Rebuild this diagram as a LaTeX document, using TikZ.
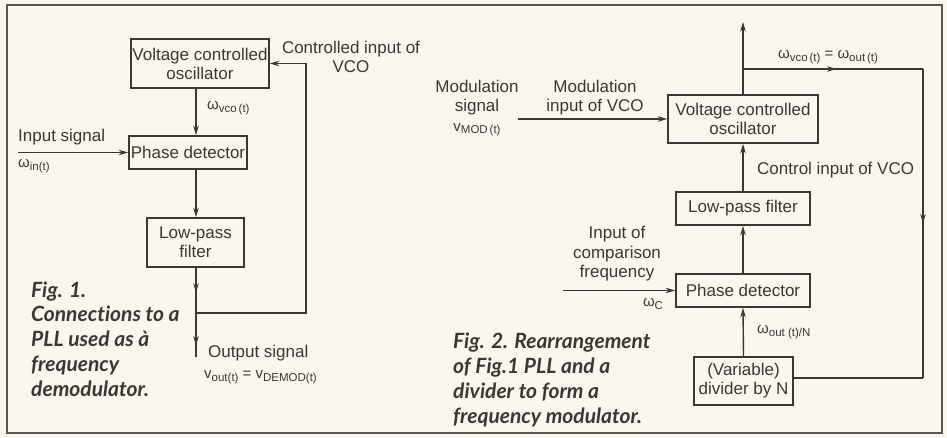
\documentclass[tikz,border=0pt]{standalone}
\usepackage{fontspec}
\setmainfont{Liberation Sans}
\newfontfamily\capfont[Ligatures=NoCommon]{Lato}
\usetikzlibrary{arrows.meta,decorations.markings}
\definecolor{ink}{RGB}{58,56,52}
\definecolor{paper}{RGB}{250,247,238}
\newcommand{\lsub}[1]{\raisebox{-0.35ex}{\fontsize{11.5}{12}\selectfont #1}}
\newcommand{\om}{{\fontsize{15}{15}\selectfont ω}}
\begin{document}
\begin{tikzpicture}[x=1pt,y=-1pt,
  lbl/.style={text=ink, inner sep=0pt, font=\fontsize{17}{19.5}\selectfont},
  sym/.style={text=ink, inner sep=0pt, font=\fontsize{15}{15}\selectfont},
  blk/.style={draw=ink, line width=1.7pt, inner sep=0pt, align=center, text=ink,
              font=\fontsize{17}{19}\selectfont},
  captext/.style={text=ink, inner sep=0pt, align=left,
              font=\capfont\bfseries\itshape\fontsize{21}{24.8}\selectfont},
  wire/.style={draw=ink, line width=1.4pt},
  arr/.style={wire, -{Stealth[length=9.5pt,width=5.5pt]}},
  midarr/.style={wire, postaction={decorate}, decoration={markings,
     mark=at position #1 with {\arrow{Stealth[length=9.5pt,width=5.5pt]}}}}
]
\useasboundingbox (0,0) rectangle (947,438);
\fill[paper] (0,0) rectangle (947,438);
\draw[ink!85, line width=1.2pt] (7,5) rectangle (942,433);

% ---------------- Fig. 1 ----------------
\node[blk, minimum width=138pt, minimum height=49pt] (vco1) at (200,63.5) {Voltage controlled\\oscillator};
\node[blk, minimum width=118pt, minimum height=33pt] (pd1) at (188,152.5) {Phase detector};
\node[blk, minimum width=97pt, minimum height=49pt] (lpf1) at (195.5,242.5) {Low-pass\\filter};
\coordinate (x1) at (196,0);
\coordinate (in1) at (18,152.5);
\coordinate (j1) at (196,313);
\coordinate (out1) at (196,357);
\coordinate (fb1) at (306,313);

\draw[arr] (vco1.south -| x1) -- (pd1.north -| x1);
\draw[arr] (in1) -- (pd1.west);
\draw[arr] (pd1.south -| x1) -- (lpf1.north -| x1);
\draw[midarr=0.55] (lpf1.south -| x1) -- (j1);
\draw[midarr=0.74] (j1) -- (out1);
\draw[arr] (j1) -- (fb1) |- (vco1.east);

\node[lbl, align=center] (ci1) at (351,57) {Controlled input of\\VCO};
\node[lbl, anchor=west] (is1) at (18,137) {Input signal};
\node[sym, anchor=west] (wi1) at (18,166) {\om\lsub{in(t)}};
\node[sym, anchor=west] (wv1) at (207,108) {\om\lsub{vco\,(t)}};
\node[lbl, anchor=west] (os1) at (208,353) {Output signal};
\node[sym, anchor=west] (vo1) at (204,377) {v\lsub{out(t)} = v\lsub{DEMOD(t)}};
\node[captext, anchor=west] (cap1) at (31,339) {Fig. 1.\\Connections to a\\PLL used as à\\frequency\\demodulator.};

% ---------------- Fig. 2 ----------------
\node[blk, minimum width=150pt, minimum height=48pt] (vco2) at (743,119) {Voltage controlled\\oscillator};
\node[blk, minimum width=134pt, minimum height=33pt] (lpf2) at (743,208.5) {Low-pass filter};
\node[blk, minimum width=134pt, minimum height=33pt] (pd2) at (743,290.5) {Phase detector};
\node[blk, minimum width=99pt, minimum height=48pt] (div2) at (743.5,381) {(Variable)\\divider by N};
\coordinate (top2) at (743,22);
\coordinate (j2) at (743,69);
\coordinate (c2) at (923,69);
\coordinate (c3) at (923,378);
\coordinate (mod2) at (518,119);
\coordinate (cmp2) at (563,290.5);

\draw[arr] (vco2.north) -- (top2);
\draw[midarr=0.52] (j2) -- (c2);
\draw[midarr=0.5] (c2) -- (c3);
\draw[wire] (c3) -- (c3 -| div2.east);
\draw[arr] (mod2) -- (vco2.west);
\draw[arr] (lpf2.north) -- (vco2.south);
\draw[arr] (pd2.north) -- (lpf2.south);
\draw[arr] (div2.north) -- (pd2.south);
\draw[arr] (cmp2) -- (pd2.west);

\node[lbl, align=center] (ms2) at (477,108) {Modulation\\signal\\{\fontsize{15}{15}\selectfont v\lsub{MOD\,(t)}}};
\node[lbl, align=center] (mi2) at (595,97.5) {Modulation\\input of VCO};
\node[sym] (wo2) at (828,57) {\om\lsub{vco\,(t)} = \om\lsub{out\,(t)}};
\node[lbl, anchor=west] (cv2) at (757,170) {Control input of VCO};
\node[lbl, align=center] (ic2) at (617,254) {Input of\\comparison\\frequency};
\node[sym] (wc2) at (653,304) {\om\lsub{C}};
\node[sym, anchor=west] (wn2) at (757,332) {\om\lsub{out (t)/N}};
\node[captext, anchor=west] (cap2) at (453,380) {Fig. 2. Rearrangement\\of Fig.1 PLL and a\\divider to form a\\frequency modulator.};
\end{tikzpicture}
\end{document}
